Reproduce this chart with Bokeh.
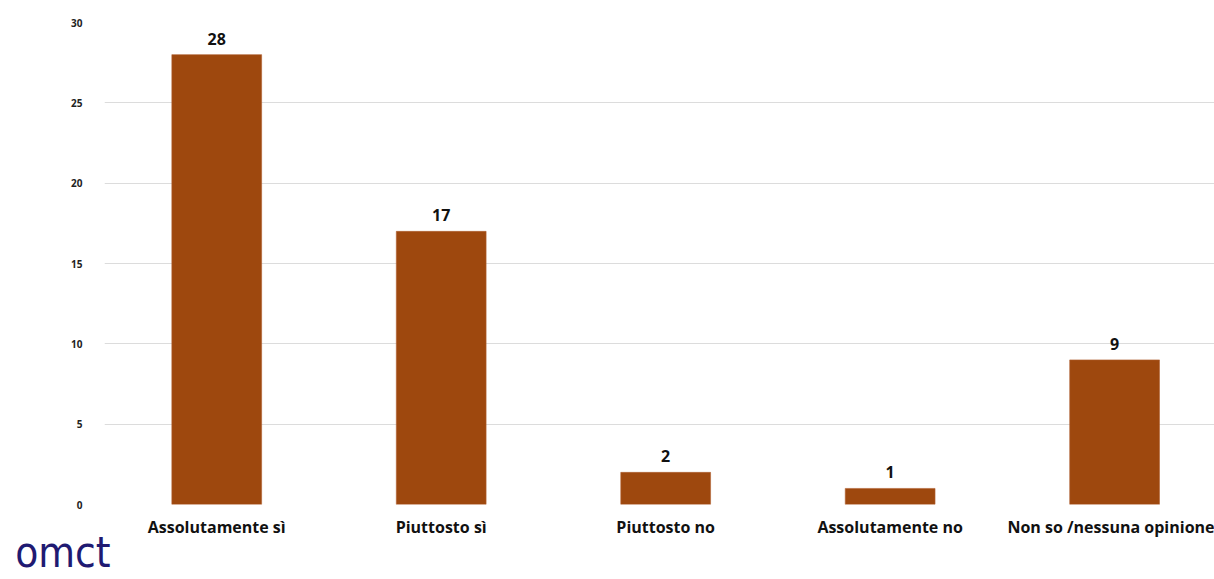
from bokeh.plotting import figure
from bokeh.models import Range1d, FixedTicker, LinearAxis, ColumnDataSource
from bokeh.core.properties import value
from bokeh.embed import file_html
from bokeh.resources import INLINE

categories = ["Assolutamente sì", "Piuttosto sì", "Piuttosto no",
              "Assolutamente no", "Non so /nessuna opinione"]
counts = [28, 17, 2, 1, 9]
y_ticks = [0, 5, 10, 15, 20, 25, 30]
logo_text = "omct"

positions = list(range(len(categories)))
src = ColumnDataSource(dict(x=positions, top=counts,
                            label=[str(c) for c in counts]))

p = figure(width=1214, height=579, output_backend="svg", toolbar_location=None,
           x_range=Range1d(-0.5, 4.445), y_range=Range1d(0, 30),
           min_border_left=104, min_border_right=0, min_border_top=22,
           min_border_bottom=75)
p.outline_line_color = None
p.background_fill_color = "white"
p.border_fill_color = "white"

p.vbar(x="x", top="top", width=0.4, source=src,
       fill_color="#9e480e", line_color="#b06030", line_width=0.6)

p.text(x="x", y="top", text="label", source=src, text_align="center",
       text_baseline="bottom", y_offset=-10, text_font_size="16px",
       text_font_style="bold", text_color="#111111",
       text_font=value("Open Sans"))

# category axis
p.xaxis.ticker = FixedTicker(ticks=positions)
p.xaxis.major_label_overrides = {i: c for i, c in enumerate(categories)}
p.xaxis.major_label_text_font = "Open Sans"
p.xaxis.major_label_text_font_style = "bold"
p.xaxis.major_label_text_font_size = "16px"
p.xaxis.major_label_text_color = "#111111"
p.xaxis.major_label_standoff = 11
p.xaxis.axis_line_color = None
p.xaxis.major_tick_line_color = None
p.xaxis.minor_tick_line_color = None
p.xaxis.major_tick_out = 0
p.xaxis.major_tick_in = 0
p.xgrid.grid_line_color = None

# value axis
p.yaxis.ticker = FixedTicker(ticks=y_ticks)
p.yaxis.major_label_text_font = "Open Sans"
p.yaxis.major_label_text_font_style = "bold"
p.yaxis.major_label_text_font_size = "10px"
p.yaxis.major_label_text_color = "#222222"
p.yaxis.major_label_standoff = 16
p.yaxis.axis_line_color = None
p.yaxis.major_tick_line_color = None
p.yaxis.minor_tick_line_color = None
p.ygrid.grid_line_color = "#dcdcdc"
p.ygrid.grid_line_width = 1.2

# organisation mark: one label on a second bottom axis, padded on the right
# with fixed-width spaces so that the word ends at the frame's left edge
p.extra_x_ranges = {"mark": Range1d(0, 1)}
mark_axis = LinearAxis(x_range_name="mark", ticker=FixedTicker(ticks=[0]),
                       major_label_overrides={0: logo_text + "\u2003\u2003\u2009"})
mark_axis.major_label_text_font = "DejaVu Sans Condensed"
mark_axis.major_label_text_font_size = "42px"
mark_axis.major_label_text_color = "#1f1a72"
mark_axis.major_label_standoff = -13
mark_axis.axis_line_color = None
mark_axis.major_tick_line_color = None
mark_axis.minor_tick_line_color = None
mark_axis.major_tick_out = 0
mark_axis.major_tick_in = 0
p.add_layout(mark_axis, "below")

open("out.html", "w").write(file_html(p, INLINE))
